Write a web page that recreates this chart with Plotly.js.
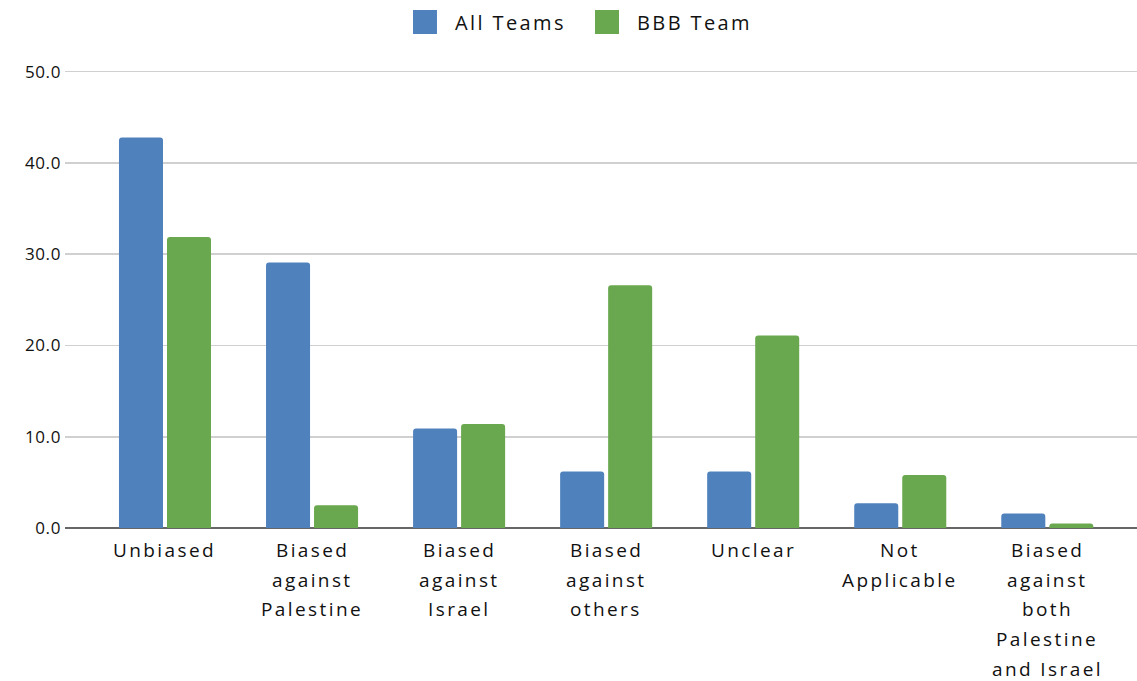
<!DOCTYPE html>
<html>
<head>
<meta charset="utf-8">
<script src="https://cdn.plot.ly/plotly-3.0.1.min.js"></script>
<style>
html,body{margin:0;padding:0;background:#fff;}
#chart{width:1137px;height:681px;}
.annotation-text{letter-spacing:2.4px;}
.ytick text{letter-spacing:0.6px;}
</style>
</head>
<body>
<div id="chart"></div>
<script>
const categories = ["Unbiased","Biased<br>against<br>Palestine","Biased<br>against<br>Israel","Biased<br>against<br>others","Unclear","Not<br>Applicable","Biased<br>against<br>both<br>Palestine<br>and Israel"];
const seriesNames = ["All Teams", "BBB Team"];
const seriesColors = ["#4f81bd", "#6aa84f"];
const allTeams = [42.8, 29.1, 10.9, 6.2, 6.2, 2.7, 1.6];
const bbbTeam = [31.9, 2.5, 11.4, 26.6, 21.1, 5.8, 0.5];
const yTickVals = [0, 10, 20, 30, 40, 50];
const yTickText = ["0.0", "10.0", "20.0", "30.0", "40.0", "50.0"];

const data = [
  {type:'bar', name:seriesNames[0], x:categories, y:allTeams, marker:{color:seriesColors[0]}},
  {type:'bar', name:seriesNames[1], x:categories, y:bbbTeam, marker:{color:seriesColors[1]}}
];

const labelFont = {family:'Open Sans, sans-serif', size:19, color:'#111'};

// category labels, one annotation per line so the line spacing matches
const annotations = [];
categories.forEach(function(cat){
  cat.split('<br>').forEach(function(line, i){
    annotations.push({
      x: cat, y: 0, xref:'x', yref:'y',
      text: line, showarrow:false,
      xanchor:'center', yanchor:'middle',
      yshift: -(22 + i*29.7),
      font: labelFont
    });
  });
});

// legend drawn as shapes + annotations (large square keys like the reference)
const shapes = [];
const plotH = 681 - 69 - 153;
const legendKeyX = [0.3246, 0.4944];
const keyW = 24/1072, keyTop = (528-10)/plotH, keyBot = (528-34)/plotH;
seriesNames.forEach(function(name, k){
  shapes.push({type:'rect', xref:'paper', yref:'paper', x0:legendKeyX[k], x1:legendKeyX[k]+keyW, y0:keyBot, y1:keyTop, fillcolor:seriesColors[k], line:{width:0}, layer:'above'});
  annotations.push({xref:'paper', yref:'paper', x:legendKeyX[k]+keyW+16/1072, y:(keyTop+keyBot)/2, xanchor:'left', yanchor:'middle', text:name, showarrow:false, font:{family:'Open Sans, sans-serif', size:20, color:'#111'}});
});

const layout = {
  width:1137, height:681,
  margin:{l:65, r:0, t:69, b:153, pad:0},
  paper_bgcolor:'#fff', plot_bgcolor:'#fff',
  font:{family:'Open Sans, sans-serif', color:'#111', size:18},
  barmode:'group', bargap:0.347, bargroupgap:0.083, barcornerradius:3,
  showlegend:false,
  annotations: annotations,
  shapes: shapes,
  xaxis:{type:'category', range:[-0.68, 6.61], showgrid:false, ticks:'', showticklabels:false, showline:false, zeroline:false, fixedrange:true},
  yaxis:{range:[0,50.3], tickvals:yTickVals, ticktext:yTickText, showgrid:true, gridcolor:'#d0d0d0', gridwidth:1.5, zeroline:true, zerolinecolor:'#666', zerolinewidth:2, tickfont:{size:17, color:'#111'}, ticklabelstandoff:3, showline:false, fixedrange:true}
};
Plotly.newPlot('chart', data, layout, {displayModeBar:false, staticPlot:true});
</script>
</body>
</html>
